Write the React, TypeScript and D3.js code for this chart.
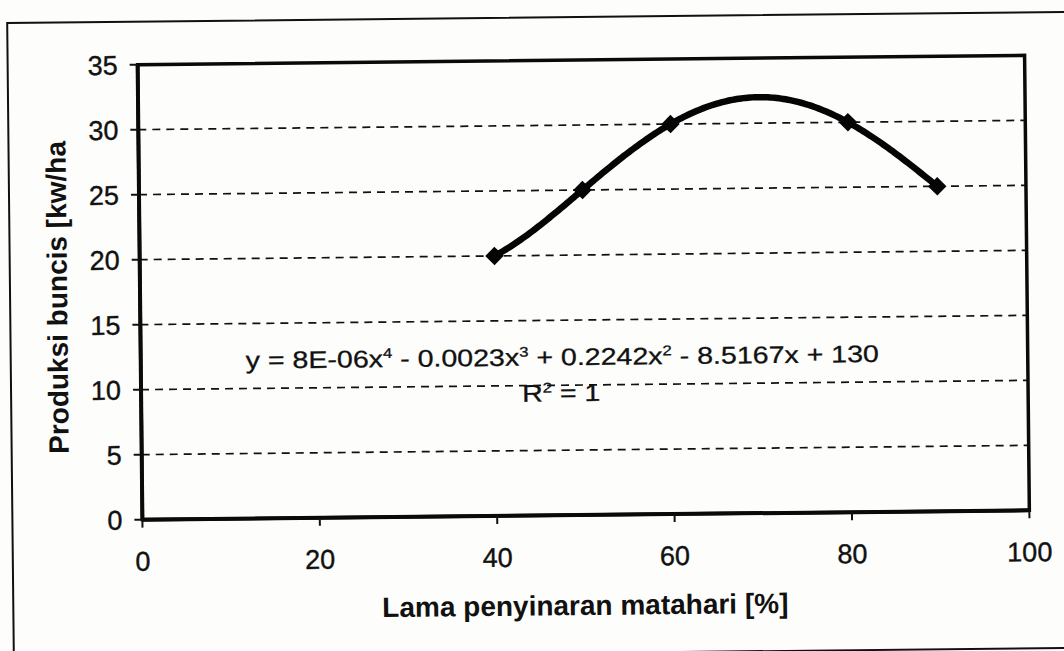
import React from "react";
import * as d3 from "d3";

// Data
const xValues = [40, 50, 60, 80, 90];
const yValues = [20, 25, 30, 30, 25];
const xTicks = [0, 20, 40, 60, 80, 100];
const yTicks = [0, 5, 10, 15, 20, 25, 30, 35];
const gridValues = [5, 10, 15, 20, 25, 30];
const xTitle = "Lama penyinaran matahari [%]";
const yTitle = "Produksi buncis [kw/ha";
const eqPieces = [
  { t: "y = 8E-06x", sup: "4" },
  { t: " - 0.0023x", sup: "3" },
  { t: " + 0.2242x", sup: "2" },
  { t: " - 8.5167x + 130", sup: "" },
];

const W = 1064;
const H = 651;
const L = 140, R = 1027, T = 60, B = 515;

// polynomial trendline (degree 4) through the points: Lagrange form
function trend(x: number): number {
  let s = 0;
  for (let i = 0; i < xValues.length; i++) {
    let p = yValues[i];
    for (let j = 0; j < xValues.length; j++) {
      if (j !== i) p *= (x - xValues[j]) / (xValues[i] - xValues[j]);
    }
    s += p;
  }
  return s;
}

export default function App() {
  const x = d3.scaleLinear().domain([0, 100]).range([L, R]);
  const y = d3.scaleLinear().domain([0, 35]).range([B, T]);
  const xmin = d3.min(xValues)!, xmax = d3.max(xValues)!;
  const samples = d3.range(xmin, xmax + 0.001, 0.25);
  const line = d3
    .line<number>()
    .x((d) => x(d))
    .y((d) => y(trend(d)));
  const diamond = d3.symbol(d3.symbolSquare, 170)()!;
  const font = "'Liberation Sans', Arial, sans-serif";
  const supShift = 9;

  const eqSpans: React.ReactNode[] = [];
  let pendingDown = false;
  eqPieces.forEach((p, i) => {
    eqSpans.push(
      <tspan key={"t" + i} dy={pendingDown ? supShift : 0}>
        {p.t}
      </tspan>
    );
    pendingDown = false;
    if (p.sup) {
      eqSpans.push(
        <tspan key={"s" + i} dy={-supShift} fontSize={14}>
          {p.sup}
        </tspan>
      );
      pendingDown = true;
    }
  });

  return (
    <svg
      width={W}
      height={H}
      style={{ position: "absolute", left: 0, top: 0, background: "#fdfdfc" }}
    >
      <rect x={0} y={0} width={W} height={H} fill="#fdfdfc" />
      <g transform="rotate(-0.6, 583, 288)" fontFamily={font} fill="#111">
        {/* outer frame */}
        <rect x={10} y={17} width={1070} height={636} fill="none" stroke="#111" strokeWidth={2} />
        {/* gridlines */}
        {gridValues.map((v) => (
          <line
            key={"g" + v}
            x1={L}
            x2={R}
            y1={y(v)}
            y2={y(v)}
            stroke="#111"
            strokeWidth={1.7}
            strokeDasharray="8,6"
          />
        ))}
        {/* plot border */}
        <rect x={L} y={T} width={R - L} height={B - T} fill="none" stroke="#0a0a0a" strokeWidth={3.5} />
        <line x1={L} x2={L} y1={T} y2={B} stroke="#0a0a0a" strokeWidth={4} />
        <line x1={L} x2={R} y1={B} y2={B} stroke="#0a0a0a" strokeWidth={4} />
        {/* y ticks */}
        {yTicks.map((v) => (
          <g key={"y" + v}>
            <line x1={L - 8} x2={L} y1={y(v)} y2={y(v)} stroke="#111" strokeWidth={2} />
            <text
              x={L - 20}
              y={y(v)}
              dy="0.36em"
              textAnchor="end"
              fontSize={27}
              stroke="#111"
              strokeWidth={0.4}
            >
              {v}
            </text>
          </g>
        ))}
        {/* x ticks */}
        {xTicks.map((v) => (
          <g key={"x" + v}>
            <line x1={x(v)} x2={x(v)} y1={B} y2={B + 8} stroke="#111" strokeWidth={2} />
            <text
              x={x(v)}
              y={B + 51}
              textAnchor="middle"
              fontSize={27}
              stroke="#111"
              strokeWidth={0.4}
            >
              {v}
            </text>
          </g>
        ))}
        {/* trendline */}
        <path d={line(samples)!} fill="none" stroke="#050505" strokeWidth={6.5} strokeLinecap="round" />
        {/* markers */}
        {xValues.map((xv, i) => (
          <path
            key={"m" + i}
            d={diamond}
            transform={`translate(${x(xv)},${y(yValues[i])}) rotate(45)`}
            fill="#050505"
          />
        ))}
        {/* equation */}
        <g transform="translate(245, 365) scale(1.19, 1)">
          <text x={0} y={0} fontSize={24} stroke="#111" strokeWidth={0.3}>
            {eqSpans}
          </text>
        </g>
        <g transform="translate(521, 401) scale(1.19, 1)">
          <text x={0} y={0} fontSize={24} stroke="#111" strokeWidth={0.3}>
            <tspan>R</tspan>
            <tspan dy={-supShift} fontSize={14}>2</tspan>
            <tspan dy={supShift}> = 1</tspan>
          </text>
        </g>
        {/* axis titles */}
        <text x={582} y={615} textAnchor="middle" fontSize={28} fontWeight="bold">
          {xTitle}
        </text>
        <text
          transform="translate(67, 292) rotate(-90)"
          textAnchor="middle"
          fontSize={28}
          fontWeight="bold"
        >
          {yTitle}
        </text>
      </g>
    </svg>
  );
}
